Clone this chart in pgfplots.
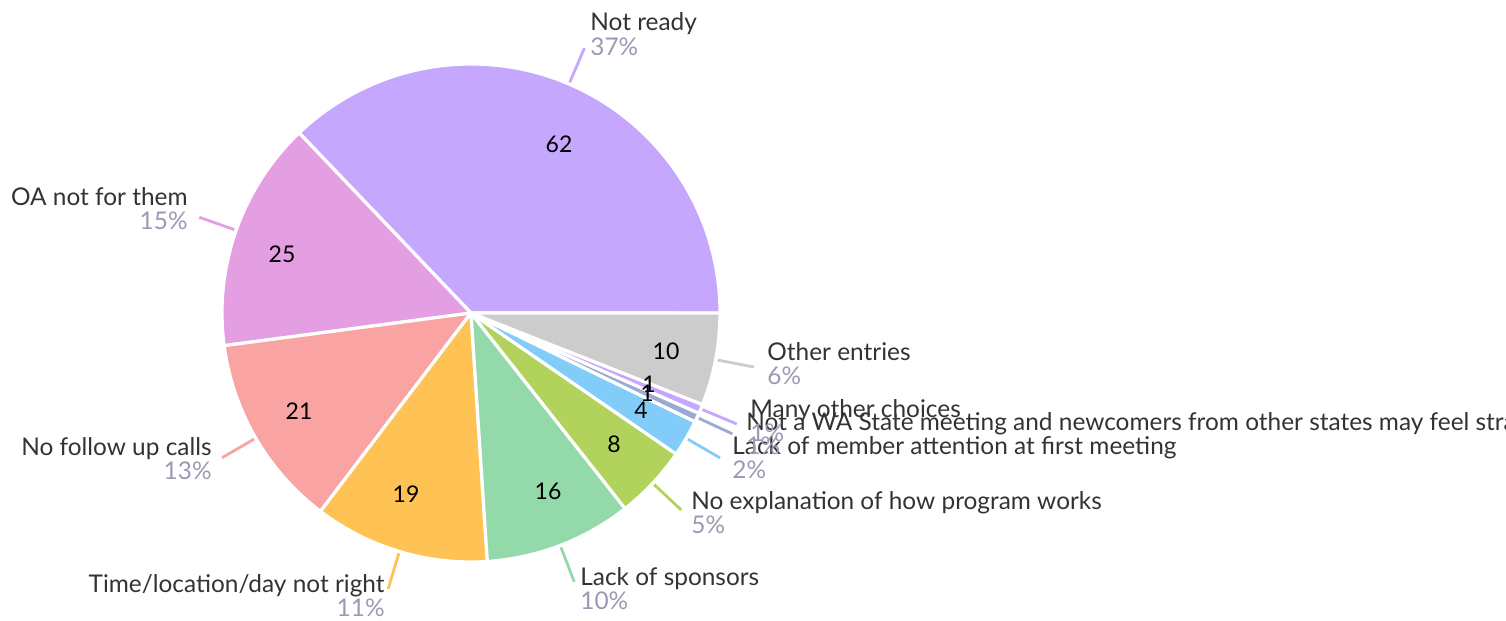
\documentclass[border=0pt]{standalone}
\usepackage{pgfplots}
\pgfplotsset{compat=1.18}
\usepackage{pgfplotstable}
\usepackage{fontspec}
\setmainfont{Lato}

\definecolor{c1}{HTML}{C5A7FE}
\definecolor{c2}{HTML}{E39FE2}
\definecolor{c3}{HTML}{F9A3A3}
\definecolor{c4}{HTML}{FFC254}
\definecolor{c5}{HTML}{93D9AA}
\definecolor{c6}{HTML}{B1D35C}
\definecolor{c7}{HTML}{82CCFA}
\definecolor{c8}{HTML}{9AAAD2}
\definecolor{c9}{HTML}{CCCCCC}
\definecolor{namec}{HTML}{333333}
\definecolor{pctc}{HTML}{9A9AB5}

% value, colour, label, label side, label x/y (px, name baseline), inner label x/y (px)
\pgfplotstableread[col sep=comma]{
value,clr,label,side,lx,ly,ix,iy
62,c1,Not ready,west,590,31,559,144
25,c2,OA not for them,east,188,205,282,254
21,c3,No follow up calls,east,212,455,299,411
19,c4,Time/location/day not right,east,385,592,406,494
16,c5,Lack of sponsors,west,580,585,548,491
8,c6,No explanation of how program works,west,691,509,614,444
4,c7,Lack of member attention at first meeting,west,732,454,641,410
1,c8,Not a WA State meeting and newcomers from other states may feel strange,west,746,430,647,393
1,c1,Many other choices,west,750,417,649,384
10,c9,Other entries,west,767,360,666,351
}\slices

\pgfplotstablegetrowsof{\slices}
\pgfmathtruncatemacro\nlast{\pgfplotsretval-1}
\def\total{0}
\pgfplotsforeachungrouped \i in {0,...,\nlast}{%
  \pgfplotstablegetelem{\i}{value}\of\slices
  \pgfmathsetmacro\total{\total+\pgfplotsretval}}

\def\cx{471}\def\cy{313}\def\R{249}

\begin{document}
\begin{tikzpicture}
\begin{axis}[x=0.5pt,y=0.5pt,y dir=reverse,
  xmin=0,xmax=1506,ymin=0,ymax=621,
  hide axis,clip=false]
\coordinate (bl) at (axis cs:0,621);
\coordinate (tr) at (axis cs:1506,0);
% slices
\def\acc{0}
\pgfplotsforeachungrouped \i in {0,...,\nlast}{%
  \pgfplotstablegetelem{\i}{value}\of\slices \let\v\pgfplotsretval
  \pgfplotstablegetelem{\i}{clr}\of\slices \let\c\pgfplotsretval
  \pgfmathsetmacro\aone{\acc}
  \pgfmathsetmacro\atwo{\acc+\v/\total*360}
  \pgfmathsetmacro\sx{\cx+\R*cos(\aone)}
  \pgfmathsetmacro\sy{\cy-\R*sin(\aone)}
  \edef\cmd{\noexpand\filldraw[fill=\c,draw=white,line width=1.6pt,line join=round]
    (axis cs:\cx,\cy) -- (axis cs:\sx,\sy)
    arc[start angle=\aone,end angle=\atwo,radius=124.5pt] -- cycle;}\cmd
  \let\acc\atwo}
% leader lines and labels
\def\acc{0}
\pgfplotsforeachungrouped \i in {0,...,\nlast}{%
  \pgfplotstablegetelem{\i}{value}\of\slices \let\v\pgfplotsretval
  \pgfplotstablegetelem{\i}{clr}\of\slices \let\c\pgfplotsretval
  \pgfplotstablegetelem{\i}{label}\of\slices \let\lab\pgfplotsretval
  \pgfplotstablegetelem{\i}{side}\of\slices \let\sd\pgfplotsretval
  \pgfplotstablegetelem{\i}{lx}\of\slices \let\lx\pgfplotsretval
  \pgfplotstablegetelem{\i}{ly}\of\slices \let\ly\pgfplotsretval
  \pgfplotstablegetelem{\i}{ix}\of\slices \let\ix\pgfplotsretval
  \pgfplotstablegetelem{\i}{iy}\of\slices \let\iy\pgfplotsretval
  \pgfmathsetmacro\atwo{\acc+\v/\total*360}
  \pgfmathsetmacro\am{(\acc+\atwo)/2}
  \pgfmathsetmacro\pxa{\cx+251*cos(\am)}
  \pgfmathsetmacro\pya{\cy-251*sin(\am)}
  \pgfmathsetmacro\pxb{\cx+288*cos(\am)}
  \pgfmathsetmacro\pyb{\cy-288*sin(\am)}
  \pgfmathsetmacro\py{\ly+24}
  \pgfmathtruncatemacro\pc{round(\v/\total*100)}
  \edef\cmd{%
    \noexpand\draw[\c,line width=1.4pt] (axis cs:\pxa,\pya) -- (axis cs:\pxb,\pyb);
    \noexpand\node[anchor=base \sd,inner sep=0pt,text=namec,font=\noexpand\fontsize{12.2}{15}\noexpand\selectfont]
      at (axis cs:\lx,\ly) {\lab};
    \noexpand\node[anchor=base \sd,inner sep=0pt,text=pctc,font=\noexpand\fontsize{12.2}{15}\noexpand\selectfont]
      at (axis cs:\lx,\py) {\pc\noexpand\%};
    \noexpand\node[inner sep=0pt,text=black,font=\noexpand\fontsize{11.5}{13}\noexpand\selectfont]
      at (axis cs:\ix,\iy) {\v};}\cmd
  \let\acc\atwo}
\end{axis}
\pgfresetboundingbox
\path[use as bounding box] (bl) rectangle (tr);
\end{tikzpicture}
\end{document}
